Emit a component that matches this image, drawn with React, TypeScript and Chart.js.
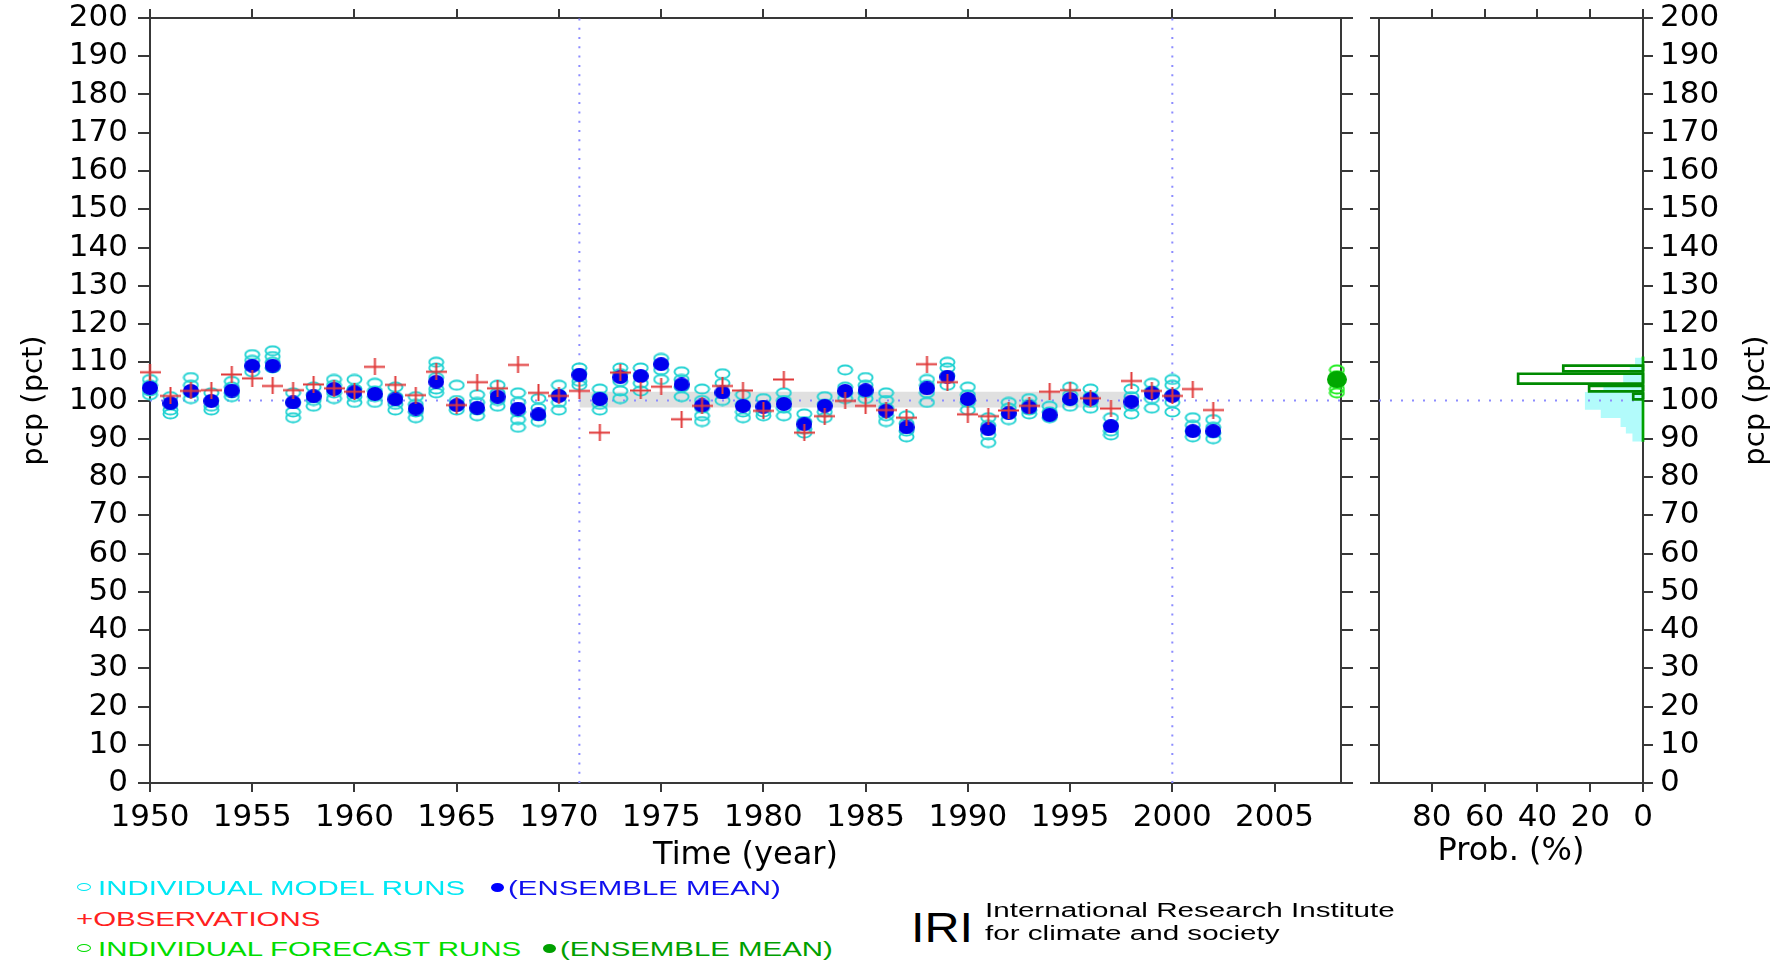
import React, { useEffect, useRef } from 'react';
import { Chart, registerables } from 'chart.js';

Chart.register(...registerables);

// ---------------- data ----------------
const hindcastYears = [
  1950, 1951, 1952, 1953, 1954, 1955, 1956, 1957, 1958, 1959,
  1960, 1961, 1962, 1963, 1964, 1965, 1966, 1967, 1968, 1969,
  1970, 1971, 1972, 1973, 1974, 1975, 1976, 1977, 1978, 1979,
  1980, 1981, 1982, 1983, 1984, 1985, 1986, 1987, 1988, 1989,
  1990, 1991, 1992, 1993, 1994, 1995, 1996, 1997, 1998, 1999,
  2000, 2001, 2002,
];

const ensembleMean = [
  103.3, 99.3, 102.5, 99.9, 102.6, 109.1, 109.1, 99.5, 101.1, 103.0,
  102.2, 101.7, 100.3, 97.9, 104.9, 98.8, 98.1, 101.0, 97.9, 96.4,
  101.2, 106.7, 100.4, 106.1, 106.4, 109.5, 104.2, 98.7, 102.1, 98.6,
  98.4, 99.1, 93.8, 98.6, 102.5, 102.7, 97.3, 93.0, 103.2, 106.2,
  100.4, 92.5, 96.7, 98.2, 96.2, 100.4, 100.4, 93.3, 99.7, 101.9,
  101.2, 92.0, 92.0,
];

const observations = [
  107.4, 101.2, 102.5, 102.7, 106.8, 105.8, 103.8, 102.7, 104.2, 103.2,
  102.3, 108.8, 104.1, 101.4, 107.5, 98.8, 104.8, 103.2, 109.3, 102.0,
  101.2, 102.5, 91.6, 107.3, 102.6, 103.6, 95.1, 98.6, 103.8, 102.6,
  97.3, 105.5, 91.6, 95.9, 99.9, 98.6, 97.5, 95.5, 109.5, 104.8,
  96.4, 95.9, 97.4, 98.6, 102.3, 102.7, 100.6, 97.9, 105.1, 102.5,
  101.2, 103.0, 97.5,
];

const modelRuns = [
  [105.5, 104, 102.5, 101.5], [101, 99, 97.5, 96.5], [106, 104, 102, 100.5],
  [102, 100, 98.5, 97.5], [105, 103.5, 102, 101], [112, 110.5, 109, 107.5],
  [113, 111.5, 110, 108.5], [102, 99.5, 97, 95.5], [103.5, 101.5, 100, 98.5],
  [105.5, 104, 102, 100.5], [105.5, 103, 101, 99.5], [104.5, 102.5, 101, 99.5],
  [103.5, 101, 99, 97.5], [101, 99, 97, 95.5], [110, 108.5, 106, 103, 102],
  [104, 100, 98.5, 97.5], [101.5, 99.5, 97.5, 96], [104, 102, 100, 98.5],
  [102, 99.5, 97, 95, 93], [100.5, 98, 96, 94.5], [104, 101.5, 99.5, 97.5],
  [108.5, 107, 105, 104], [103, 101, 99, 97.5], [108.5, 107, 105, 102.5, 100.5],
  [108.5, 106.5, 104.5, 102.5], [111, 109.5, 108, 105.5], [107.5, 105.5, 103.5, 101],
  [103, 100, 98, 96, 94.5], [107, 104.5, 102, 100], [101.5, 99, 97, 95.5],
  [100.5, 98.5, 97, 96], [102, 100, 98, 96], [96.5, 94.5, 92.5, 91.5],
  [101, 99, 97, 95.5], [108, 103.5, 102, 100.5], [106, 104, 102, 100.5],
  [102, 100, 98, 96, 94.5], [96, 94, 92, 90.5], [105.5, 104, 102, 99.5],
  [110, 108.5, 106.5, 104], [103.5, 101.5, 99.5, 97.5], [95.5, 93.5, 91, 89],
  [99.5, 98, 96.5, 95], [100.5, 99, 97.5, 96.5], [98.5, 97, 95.5],
  [103.5, 101.5, 100, 98.5], [103, 101, 99.5, 98], [95.5, 93.5, 92, 91],
  [103, 101, 98.5, 96.5], [104.5, 102.5, 100.5, 98], [105.5, 104, 101.5, 99.5, 97],
  [95.5, 93.5, 92, 90.5], [95, 93, 91.5, 90],
];

const forecastYear = 2008.05;
const forecastRuns = [108, 106.5, 105.5, 104.5, 103, 102];
const forecastMean = 105.5;

const referenceLevel = 100;
const climatologyLines = [1971, 2000];
const bandYears = [1971, 1998];
const bandLow = 98.2;
const bandHigh = 102.3;

const yearMin = 1950;
const yearMax = 2008.25;
const yearTicks = [1950, 1955, 1960, 1965, 1970, 1975, 1980, 1985, 1990, 1995, 2000, 2005];
const pcpMin = 0;
const pcpMax = 200;
const probTicks = [0, 20, 40, 60, 80];

// forecast probability histogram (outlined)
const forecastBinLow = [100.3, 102.4, 104.4, 107.6];
const forecastBinHigh = [101.8, 103.8, 107.0, 109.1];
const forecastProb = [3.7, 20.4, 47.3, 30.2];
const forecastSupport = [89.2, 111.5];

// hindcast probability histogram (filled)
const hindcastBinEdges = [89.3, 91.4, 93.1, 95.4, 97.6, 100.0, 102.2, 104.3, 107.2, 109.3, 111.2];
const hindcastProb = [4, 6.5, 8.5, 16, 22, 22, 15, 7.5, 5, 3];

// ---------------- styling helpers ----------------
const AXIS = '#383838';
const FONT = 'DejaVu Sans';

function marker(w: number, h: number, draw: (ctx: CanvasRenderingContext2D) => void) {
  const c = document.createElement('canvas');
  c.width = w;
  c.height = h;
  const ctx = c.getContext('2d')!;
  draw(ctx);
  return c;
}

function ellipseMarker(w: number, h: number, color: string, filled: boolean, lw = 1.9) {
  return marker(w, h, (ctx) => {
    ctx.beginPath();
    if (filled) {
      ctx.ellipse(w / 2, h / 2, w / 2, h / 2, 0, 0, Math.PI * 2);
      ctx.fillStyle = color;
      ctx.fill();
    } else {
      ctx.ellipse(w / 2, h / 2, w / 2 - lw / 2 - 0.5, h / 2 - lw / 2 - 0.5, 0, 0, Math.PI * 2);
      ctx.strokeStyle = color;
      ctx.lineWidth = lw;
      ctx.stroke();
    }
  });
}

function plusMarker(w: number, h: number, color: string) {
  return marker(w, h, (ctx) => {
    ctx.strokeStyle = color;
    ctx.lineWidth = 2;
    ctx.beginPath();
    ctx.moveTo(0, h / 2);
    ctx.lineTo(w, h / 2);
    ctx.moveTo(w / 2, 0);
    ctx.lineTo(w / 2, h);
    ctx.stroke();
  });
}

const fixWidth = (w: number) => (s: any) => {
  s.width = w;
  s.paddingTop = 0;
  s.paddingBottom = 0;
};
const fixHeight = (h: number) => (s: any) => {
  s.height = h;
  s.paddingLeft = 0;
  s.paddingRight = 0;
};
const setTicks = (vals: number[]) => (s: any) => { s.ticks = vals.map((v) => ({ value: v })); };
const plainLabel = (v: any) => String(v);

const gridOpts = (len: number) => ({
  drawOnChartArea: false,
  drawTicks: true,
  tickLength: len,
  color: AXIS,
  lineWidth: 2,
});
const borderOpts = { display: true, color: AXIS, width: 2 };
const tickFont = { family: FONT, size: 31 };

const rightTitlePlugin = {
  id: 'rightTitle',
  afterDraw(chart: any) {
    const ctx = chart.ctx;
    ctx.save();
    ctx.translate(396, (chart.chartArea.top + chart.chartArea.bottom) / 2);
    ctx.rotate(-Math.PI / 2);
    ctx.font = `29px ${FONT}`;
    ctx.fillStyle = '#000';
    ctx.textAlign = 'center';
    ctx.textBaseline = 'middle';
    ctx.fillText('pcp (pct)', 0, 0);
    ctx.restore();
  },
};

export default function App() {
  const mainRef = useRef<HTMLCanvasElement>(null);
  const histRef = useRef<HTMLCanvasElement>(null);

  useEffect(() => {
    const cyan = ellipseMarker(17, 12, '#22d2d2', false);
    const blue = ellipseMarker(16, 14, '#0000ee', true);
    const red = plusMarker(21, 17, '#e03a3a');
    const greenOpen = ellipseMarker(17, 12, '#22ee22', false);
    const greenFull = ellipseMarker(20, 17, '#00a800', true);

    const runPoints = hindcastYears.flatMap((yr, i) => modelRuns[i].map((v) => ({ x: yr, y: v })));
    const pts = (vals: number[]) => hindcastYears.map((x, i) => ({ x, y: vals[i] }));

    const pointDs = (label: string, data: any[], style: any, order: number) => ({
      label,
      data,
      showLine: false,
      pointStyle: style,
      pointRadius: 5,
      pointHoverRadius: 5,
      order,
      clip: false,
    });

    const lineDs = (label: string, data: any[], color: string, order: number, extra: any = {}) => ({
      label,
      data,
      borderColor: color,
      borderWidth: 2,
      pointRadius: 0,
      fill: false,
      order,
      ...extra,
    });

    const c1 = new Chart(mainRef.current!, {
      type: 'line',
      data: {
        datasets: [
          pointDs('OBSERVATIONS', pts(observations), red, 1),
          pointDs('ENSEMBLE MEAN', pts(ensembleMean), blue, 2),
          pointDs('FORECAST MEAN', [{ x: forecastYear, y: forecastMean }], greenFull, 2),
          pointDs('INDIVIDUAL MODEL RUNS', runPoints, cyan, 3),
          pointDs('INDIVIDUAL FORECAST RUNS', forecastRuns.map((v) => ({ x: forecastYear, y: v })), greenOpen, 3),
          lineDs('ref', [{ x: yearMin, y: referenceLevel }, { x: yearMax, y: referenceLevel }], '#8c8cff', 4, { borderDash: [2, 9] }),
          ...climatologyLines.map((yr) =>
            lineDs('clim' + yr, [{ x: yr, y: pcpMin }, { x: yr, y: pcpMax }], '#8c8cff', 4, { borderDash: [2, 7.3] })
          ),
          lineDs('bandHigh', bandYears.map((x) => ({ x, y: bandHigh })), 'rgba(0,0,0,0)', 5, { borderWidth: 0 }),
          lineDs('bandLow', bandYears.map((x) => ({ x, y: bandLow })), 'rgba(0,0,0,0)', 5, {
            borderWidth: 0,
            fill: '-1',
            backgroundColor: '#e0e0e0',
          }),
        ],
      },
      options: {
        responsive: false,
        animation: false,
        layout: { padding: { left: 0, right: 0, top: 8, bottom: 0 } },
        plugins: { legend: { display: false }, tooltip: { enabled: false } },
        events: [],
        scales: {
          x: {
            type: 'linear',
            position: 'bottom',
            min: yearMin,
            max: yearMax,
            afterBuildTicks: setTicks(yearTicks),
            afterFit: fixHeight(117),
            grid: gridOpts(9),
            border: borderOpts,
            ticks: { font: tickFont, color: '#000', padding: 7, maxRotation: 0, autoSkip: false, callback: plainLabel },
            title: {
              display: true,
              text: 'Time (year)',
              font: { family: FONT, size: 32 },
              color: '#000',
              padding: { top: 0, bottom: 25 },
            },
          },
          xTop: {
            type: 'linear',
            position: 'top',
            min: yearMin,
            max: yearMax,
            afterBuildTicks: setTicks(yearTicks),
            afterFit: fixHeight(10),
            grid: gridOpts(9),
            border: borderOpts,
            ticks: { display: false },
          },
          y: {
            type: 'linear',
            position: 'left',
            min: pcpMin,
            max: pcpMax,
            afterFit: fixWidth(150),
            grid: gridOpts(12),
            border: borderOpts,
            ticks: { stepSize: 10, font: tickFont, color: '#000', padding: 10, autoSkip: false, callback: plainLabel },
            title: {
              display: true,
              text: 'pcp (pct)',
              font: { family: FONT, size: 29 },
              color: '#000',
              padding: { top: 17, bottom: 0 },
            },
          },
          y2: {
            type: 'linear',
            position: 'right',
            min: pcpMin,
            max: pcpMax,
            afterFit: fixWidth(19),
            grid: gridOpts(12),
            border: borderOpts,
            ticks: { stepSize: 10, display: false, autoSkip: false },
          },
        },
      } as any,
    });

    // histogram panel
    const rect = (lo: number, hi: number, p: number) => [
      { x: 0, y: lo }, { x: p, y: lo }, { x: p, y: hi }, { x: 0, y: hi }, { x: 0, y: lo },
    ];
    const hindPoly: { x: number; y: number }[] = [{ x: 0, y: hindcastBinEdges[0] }];
    hindcastProb.forEach((p, i) => {
      hindPoly.push({ x: p, y: hindcastBinEdges[i] });
      hindPoly.push({ x: p, y: hindcastBinEdges[i + 1] });
    });
    hindPoly.push({ x: 0, y: hindcastBinEdges[hindcastBinEdges.length - 1] });
    hindPoly.push({ x: 0, y: hindcastBinEdges[0] });

    const c2 = new Chart(histRef.current!, {
      type: 'line',
      data: {
        datasets: [
          ...forecastProb.map((p, i) =>
            lineDs('fc' + i, rect(forecastBinLow[i], forecastBinHigh[i], p), '#008a00', 1, { borderWidth: 2.7, clip: false })
          ),
          lineDs('fcBase', forecastSupport.map((y) => ({ x: 0, y })), '#00a000', 1, { borderWidth: 2.7, clip: false }),
          lineDs('ref', [{ x: 100, y: referenceLevel }, { x: 0, y: referenceLevel }], '#8c8cff', 2, { borderDash: [2, 9] }),
          lineDs('hind', hindPoly, 'rgba(0,0,0,0)', 3, { borderWidth: 0, fill: 'shape', backgroundColor: '#b2fbfb' }),
        ],
      },
      plugins: [rightTitlePlugin],
      options: {
        responsive: false,
        animation: false,
        layout: { padding: { left: 0, right: 0, top: 8, bottom: 0 } },
        plugins: { legend: { display: false }, tooltip: { enabled: false } },
        events: [],
        scales: {
          x: {
            type: 'linear',
            position: 'bottom',
            min: 0,
            max: 100,
            reverse: true,
            afterBuildTicks: setTicks(probTicks),
            afterFit: fixHeight(117),
            grid: gridOpts(9),
            border: borderOpts,
            ticks: { font: tickFont, color: '#000', padding: 7, maxRotation: 0, autoSkip: false, callback: plainLabel },
            title: {
              display: true,
              text: 'Prob. (%)',
              font: { family: FONT, size: 32 },
              color: '#000',
              padding: { top: 0, bottom: 29 },
            },
          },
          xTop: {
            type: 'linear',
            position: 'top',
            min: 0,
            max: 100,
            reverse: true,
            afterBuildTicks: setTicks(probTicks),
            afterFit: fixHeight(10),
            grid: gridOpts(9),
            border: borderOpts,
            ticks: { display: false },
          },
          y: {
            type: 'linear',
            position: 'left',
            min: pcpMin,
            max: pcpMax,
            afterFit: fixWidth(19),
            grid: gridOpts(9),
            border: borderOpts,
            ticks: { stepSize: 10, display: false, autoSkip: false },
          },
          y2: {
            type: 'linear',
            position: 'right',
            min: pcpMin,
            max: pcpMax,
            afterFit: fixWidth(139),
            grid: gridOpts(10),
            border: borderOpts,
            ticks: { stepSize: 10, font: tickFont, color: '#000', padding: 7, autoSkip: false, callback: plainLabel },
          },
        },
      } as any,
    });

    return () => {
      c1.destroy();
      c2.destroy();
    };
  }, []);

  const legendText = (left: number, top: number, color: string, text: string, scale = 1.40) => (
    <span
      style={{
        position: 'absolute',
        left,
        top,
        color,
        fontFamily: 'Liberation Sans',
        fontSize: 21,
        lineHeight: '21px',
        whiteSpace: 'nowrap',
        transform: `scaleX(${scale})`,
        transformOrigin: 'left center',
      }}
    >
      {text}
    </span>
  );
  const dot = (cx: number, cy: number, w: number, h: number, color: string, filled: boolean) => (
    <span
      style={{
        position: 'absolute',
        left: cx - w / 2,
        top: cy - h / 2,
        width: w,
        height: h,
        boxSizing: 'border-box',
        borderRadius: '50%',
        background: filled ? color : 'transparent',
        border: filled ? 'none' : `1.3px solid ${color}`,
      }}
    />
  );

  return (
    <div style={{ position: 'absolute', left: 0, top: 0, width: 1782, height: 966, background: '#fff', overflow: 'hidden' }}>
      <canvas ref={mainRef} width={1360} height={900} style={{ position: 'absolute', left: 0, top: 0, width: 1360, height: 900 }} />
      <canvas ref={histRef} width={422} height={900} style={{ position: 'absolute', left: 1360, top: 0, width: 422, height: 900 }} />

      {dot(83.5, 887, 14, 8, '#00e8f4', false)}
      {legendText(97.5, 876.5, '#00e8f4', 'INDIVIDUAL MODEL RUNS')}
      {dot(497.5, 887, 13, 9, '#0000ff', true)}
      {legendText(508, 876.5, '#1010ee', '(ENSEMBLE MEAN)')}

      {legendText(76, 907.5, '#ff2020', '+OBSERVATIONS')}

      {dot(83.5, 948, 14, 8, '#00dd00', false)}
      {legendText(98, 937.5, '#00dd00', 'INDIVIDUAL FORECAST RUNS')}
      {dot(549.5, 948, 13, 9, '#00a000', true)}
      {legendText(560, 937.5, '#00a000', '(ENSEMBLE MEAN)')}

      <span
        style={{
          position: 'absolute',
          left: 911,
          top: 906,
          fontFamily: 'Liberation Sans',
          fontSize: 43,
          lineHeight: '43px',
          color: '#000',
          transform: 'scaleX(1.13)',
          transformOrigin: 'left center',
        }}
      >
        IRI
      </span>
      <span
        style={{
          position: 'absolute',
          left: 985,
          top: 900,
          fontFamily: 'Liberation Sans',
          fontSize: 20,
          lineHeight: '20px',
          whiteSpace: 'nowrap',
          color: '#000',
          transform: 'scaleX(1.48)',
          transformOrigin: 'left center',
        }}
      >
        International Research Institute
      </span>
      <span
        style={{
          position: 'absolute',
          left: 985,
          top: 923,
          fontFamily: 'Liberation Sans',
          fontSize: 20,
          lineHeight: '20px',
          whiteSpace: 'nowrap',
          color: '#000',
          transform: 'scaleX(1.48)',
          transformOrigin: 'left center',
        }}
      >
        for climate and society
      </span>
    </div>
  );
}
